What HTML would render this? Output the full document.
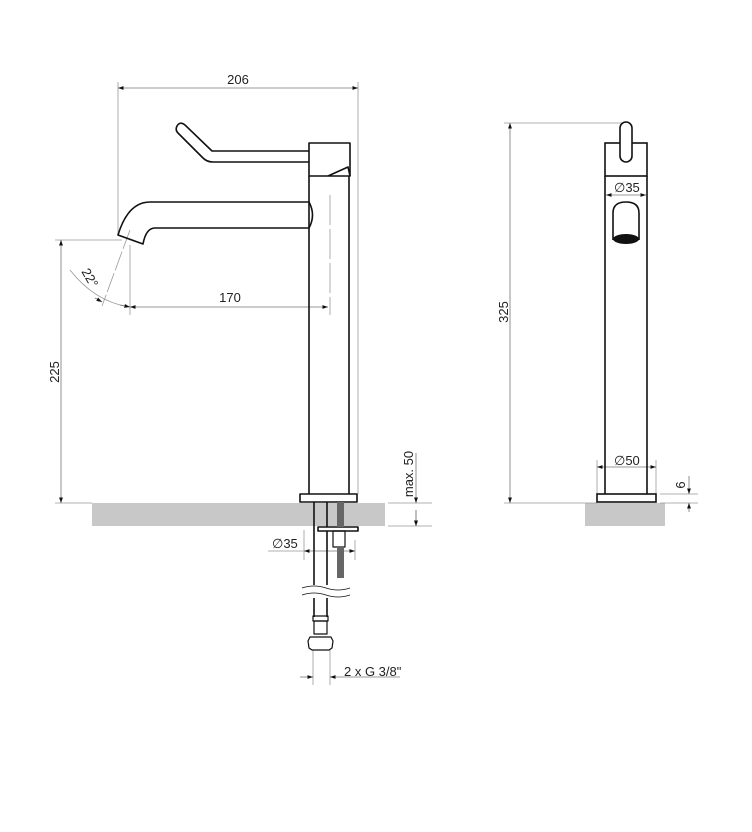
<!DOCTYPE html>
<html><head><meta charset="utf-8"><style>
html,body{margin:0;padding:0;background:#fff}
svg{display:block}
text{font-family:"Liberation Sans",sans-serif;font-size:13px;fill:#222}
</style></head><body>
<svg width="752" height="832" viewBox="0 0 752 832" xmlns="http://www.w3.org/2000/svg">
<defs>
<marker id="a" viewBox="0 0 10 10" refX="10" refY="5" markerWidth="7" markerHeight="7" orient="auto-start-reverse"><path d="M0,1.5 L10,5 L0,8.5z" fill="#111"/></marker>
</defs>
<!-- counters -->
<rect x="92" y="503" width="293" height="23" fill="#c8c8c8"/>
<rect x="585" y="503" width="80" height="23" fill="#c8c8c8"/>

<g stroke="#999" stroke-width="0.8" fill="none">
 <!-- 206 -->
 <line x1="118" y1="82" x2="118" y2="236"/>
 <line x1="358" y1="82" x2="358" y2="494"/>
 <!-- 225 -->
 <line x1="55" y1="240" x2="122" y2="240"/>
 <line x1="55" y1="503" x2="92" y2="503"/>
 <!-- 170 ext -->
 <line x1="130" y1="245" x2="130" y2="315"/>
 <line x1="330" y1="195" x2="330" y2="315" stroke-dasharray="30 4"/>
 <!-- 22 deg -->
 <line x1="130" y1="230" x2="102" y2="306" stroke-dasharray="20 3"/>
 <path d="M70,270 Q95,302 130,307"/>
 <!-- max50 -->
 <line x1="388" y1="503" x2="432" y2="503"/>
 <line x1="388" y1="526" x2="432" y2="526"/>
 <!-- dia35 left -->
 <line x1="304" y1="530" x2="304" y2="560"/>
 <line x1="355" y1="540" x2="355" y2="560"/>
 <line x1="268" y1="551" x2="304" y2="551"/>
 <!-- 2xG -->
 <line x1="313" y1="650" x2="313" y2="685"/>
 <line x1="330" y1="650" x2="330" y2="685"/>
 <!-- right view -->
 <line x1="504" y1="123" x2="626" y2="123"/>
 <line x1="504" y1="503" x2="597" y2="503"/>
 <line x1="597" y1="460" x2="597" y2="494"/>
 <line x1="656" y1="460" x2="656" y2="494"/>
 <line x1="660" y1="494" x2="698" y2="494"/>
 <line x1="660" y1="503" x2="698" y2="503"/>
</g>
<g stroke="#777" stroke-width="0.8" fill="none">
 <line x1="118" y1="88" x2="358" y2="88" marker-start="url(#a)" marker-end="url(#a)"/>
 <line x1="61" y1="240" x2="61" y2="503" marker-start="url(#a)" marker-end="url(#a)"/>
 <line x1="130" y1="307" x2="328" y2="307" marker-start="url(#a)" marker-end="url(#a)"/>
 <line x1="416" y1="453" x2="416" y2="503" marker-end="url(#a)"/>
 <line x1="416" y1="526" x2="416" y2="510" marker-start="url(#a)"/>
 <line x1="416" y1="510" x2="416" y2="526" marker-end="url(#a)"/>
 <line x1="304" y1="551" x2="355" y2="551" marker-start="url(#a)" marker-end="url(#a)"/>
 <line x1="300" y1="677" x2="313" y2="677" marker-end="url(#a)"/>
 <line x1="330" y1="677" x2="400" y2="677" marker-start="url(#a)"/>
 <line x1="510" y1="123" x2="510" y2="503" marker-start="url(#a)" marker-end="url(#a)"/>
 <line x1="606" y1="195" x2="646" y2="195" marker-start="url(#a)" marker-end="url(#a)"/>
 <line x1="597" y1="467" x2="656" y2="467" marker-start="url(#a)" marker-end="url(#a)"/>
 <line x1="689" y1="476" x2="689" y2="494" marker-end="url(#a)"/>
 <line x1="689" y1="512" x2="689" y2="503" marker-end="url(#a)"/>
 <line x1="120" y1="305" x2="130" y2="307" marker-end="url(#a)"/>
 <line x1="95" y1="298" x2="102" y2="302" marker-end="url(#a)"/>
</g>

<!-- left faucet -->
<g stroke="#111" stroke-width="1.6" fill="none" stroke-linejoin="round">
 <rect x="309" y="143" width="41" height="33" fill="#fff"/>
 <path d="M328,176 L348,167 L350,176"/>
 <line x1="309" y1="176" x2="309" y2="494"/>
 <line x1="349" y1="176" x2="349" y2="494"/>
 <rect x="300" y="494" width="57" height="8" fill="#fff"/>
 <!-- handle -->
 <path d="M309,151 L212,151 L185,125 Q180,121 177,126 Q175,130 178,133 L203,158 Q207,162 213,162 L309,162"/>
 <!-- spout -->
 <path d="M309,202 L150,202 Q128,202 118,235 L143,244 Q146,228 155,228 L309,228"/>
 <path d="M309,202 Q316,215 309,228"/>
 <!-- under counter -->
 <line x1="314" y1="502" x2="314" y2="585"/>
 <line x1="327" y1="502" x2="327" y2="585"/>
 <line x1="314" y1="598" x2="314" y2="617"/>
 <line x1="327" y1="598" x2="327" y2="617"/>
 <path d="M302,588 q12,-4 24,0 t24,0" stroke-width="0.8"/>
 <path d="M302,595 q12,-4 24,0 t24,0" stroke-width="0.8"/>
 <rect x="313" y="616" width="15" height="5" stroke-width="1.2"/>
 <rect x="314" y="621" width="13" height="13" stroke-width="1.2"/>
 <path d="M310,637 L331,637 L333,641 L332,648 L329,650 L312,650 L309,648 L308,641z" stroke-width="1.2"/>
 <rect x="318" y="527" width="40" height="4" fill="#fff"/>
 <rect x="333" y="531" width="12" height="16" stroke-width="1.2"/>
</g>
<rect x="337" y="502" width="7" height="25" fill="#666"/>
<rect x="337" y="547" width="7" height="31" fill="#666"/>

<!-- right faucet -->
<g stroke="#111" stroke-width="1.6" fill="none">
 <rect x="605" y="143" width="42" height="33"/>
 <line x1="605" y1="176" x2="605" y2="494"/>
 <line x1="647" y1="176" x2="647" y2="494"/>
 <rect x="597" y="494" width="59" height="8" fill="#fff"/>
 <rect x="620" y="122" width="12" height="40" rx="6" fill="#fff"/>
 <path d="M613,240 L613,213 Q613,202 626,202 Q639,202 639,213 L639,240"/>
</g>
<ellipse cx="626" cy="239" rx="13" ry="5" fill="#111"/>

<!-- labels -->
<text x="238" y="84" text-anchor="middle">206</text>
<text x="230" y="302" text-anchor="middle">170</text>
<text transform="translate(59,372) rotate(-90)" text-anchor="middle">225</text>
<text transform="translate(86,280) rotate(60)" text-anchor="middle" font-size="12">22°</text>
<text transform="translate(413,474) rotate(-90)" text-anchor="middle">max. 50</text>
<text x="272" y="548">∅35</text>
<text x="344" y="676">2 x G 3/8"</text>
<text transform="translate(508,312) rotate(-90)" text-anchor="middle">325</text>
<text x="614" y="192">∅35</text>
<text x="614" y="465">∅50</text>
<text transform="translate(685,485) rotate(-90)" text-anchor="middle">6</text>
</svg>
</body></html>
